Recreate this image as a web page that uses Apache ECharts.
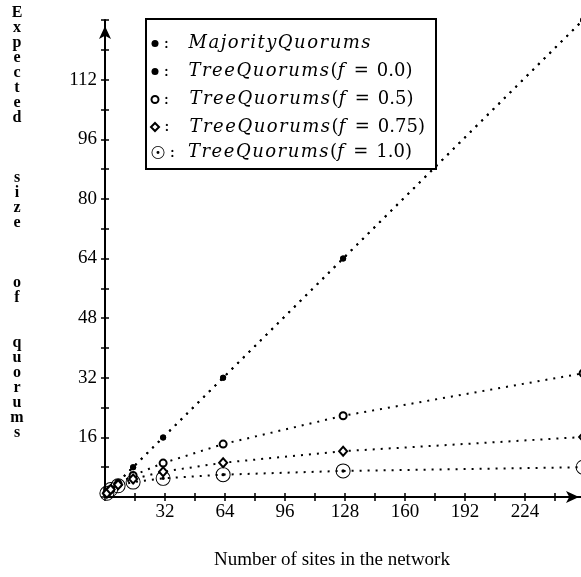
<!DOCTYPE html>
<html><head><meta charset="utf-8">
<script src="https://cdn.jsdelivr.net/npm/echarts@6/dist/echarts.min.js"></script>
<style>html,body{margin:0;padding:0;background:#fff}#c{width:581px;height:577px}</style>
</head><body><div id="c"></div>
<script>
// ---- data ----
const sites = [1, 3, 7, 15, 31, 63, 127, 255];
const majorityQuorums = [1, 2, 4, 8, 16, 32, 64, 128];
const treeF00 = [1, 2, 4, 8, 16, 32, 64, 128];
const treeF05 = [1, 2, 3.5, 5.8, 9.1, 14.2, 21.8, 33.2];
const treeF075 = [1, 2, 3.3, 4.8, 6.8, 9.2, 12.3, 16.1];
const treeF10 = [1, 2, 3, 4, 5, 6, 7, 8];
const xTickLabels = [32, 64, 96, 128, 160, 192, 224];
const yTickLabels = [16, 32, 48, 64, 80, 96, 112];
const seriesNames = ['MajorityQuorums', 'TreeQuorums(f = 0.0)', 'TreeQuorums(f = 0.5)', 'TreeQuorums(f = 0.75)', 'TreeQuorums(f = 1.0)'];
const xTitle = 'Number of sites in the network';
const yTitle = 'Expected size of quorums';

// ---- styles ----
const SERIF = 'Liberation Serif';
const MATH = 'DejaVu Serif';
const odot = 'path://M0,-10A10,10,0,1,1,0,10A10,10,0,1,1,0,-10ZM0,-8.7A8.7,8.7,0,1,0,0,8.7A8.7,8.7,0,1,0,0,-8.7ZM0,-2.3A2.3,2.3,0,1,1,0,2.3A2.3,2.3,0,1,1,0,-2.3Z';
const dotted = {color: '#000', width: 2, type: [2, 6], cap: 'butt'};

function mk(name, vals, symbol, size, bw, z) {
  return {
    name, type: 'line', data: sites.map((s, i) => [s, vals[i]]),
    symbol, symbolSize: size, showSymbol: true, z,
    lineStyle: dotted,
    itemStyle: {color: '#000', borderColor: '#000', borderWidth: bw},
    emphasis: {disabled: true}, animation: false
  };
}
const series = [
  mk(seriesNames[0], majorityQuorums, 'circle', 6, 0, 3),
  mk(seriesNames[1], treeF00, 'circle', 6, 0, 3),
  mk(seriesNames[2], treeF05, 'emptyCircle', 7, 1.7, 4),
  mk(seriesNames[3], treeF075, 'emptyDiamond', [8, 9], 1.5, 4),
  mk(seriesNames[4], treeF10, odot, 15, 0, 2)
];

// legend rows: icon, size, icon center x, row center y, colon box width
const legendRows = [
  {icon: 'circle', w: 7, cx: 155, cy: 38, cw: 25},
  {icon: 'circle', w: 7, cx: 155, cy: 66, cw: 25},
  {icon: 'emptyCircle', w: 7, cx: 154, cy: 94, cw: 26},
  {icon: 'emptyDiamond', w: 8, cx: 154, cy: 122, cw: 25.5},
  {icon: odot, w: 13, cx: 158, cy: 150, cw: 18.5}
];
// math-italic style: each letter its own token so spacing resembles TeX math italic
function itl(s) { return s.split('').map(ch => '{it|' + ch + '}').join(''); }
function fmt(name) {
  const m = name.match(/^(\w+)\((\w) = ([\d.]+)\)$/);
  if (!m) return '{c|:}' + itl(name);
  return '{c|:}' + itl(m[1]) + '{rm|(}' + itl(m[2]) + '{eq|=}{rm|' + m[3] + ')}';
}
const legends = legendRows.map((r, i) => ({
  data: [{name: seriesNames[i], icon: r.icon}],
  left: r.cx - r.w / 2, top: r.cy - r.w / 2,
  itemWidth: r.w, itemHeight: r.w, padding: 0, selectedMode: false,
  formatter: fmt,
  textStyle: {
    rich: {
      c: {fontFamily: MATH, fontSize: 17, color: '#000', width: r.cw, lineHeight: 20},
      it: {fontFamily: MATH, fontStyle: 'italic', fontSize: 18, color: '#000', lineHeight: 20, padding: [0, 1.5, 0, 0]},
      rm: {fontFamily: MATH, fontSize: 18, color: '#000', lineHeight: 20},
      eq: {fontFamily: MATH, fontSize: 18, color: '#000', lineHeight: 20, padding: [0, 8, 0, 8]}
    }
  }
}));

// stacked vertical y-axis title (letters one per line, blank lines between words)
const wordGaps = ['\n\n\n\n', '\n\n\n\n', '\n\n\n'];
const yWords = yTitle.split(' ').map(w => w.split('').join('\n'));
const yName = yWords.reduce((acc, w, i) => i === 0 ? w : acc + wordGaps[i - 1] + w, '');

const axisLineCommon = {show: true, lineStyle: {color: '#000', width: 2}, symbol: ['none', 'arrow'], symbolSize: [9, 13], symbolOffset: [0, -6]};
const tickStyle = {color: '#000', width: 1.5};

const option = {
  backgroundColor: '#fff',
  animation: false,
  title: {
    text: yName, left: 17, top: 5, padding: 0, textAlign: 'center',
    textStyle: {fontFamily: SERIF, fontSize: 16, fontWeight: 'bold', color: '#000', lineHeight: 15}
  },
  grid: {left: 105, right: -4, top: 20, bottom: 80, containLabel: false, outerBoundsMode: 'none'},
  legend: legends,
  graphic: [{type: 'rect', shape: {x: 146, y: 19, width: 290, height: 150}, style: {fill: 'none', stroke: '#000', lineWidth: 2}, z: 100}],
  xAxis: [{
    type: 'value', min: 0, max: 256, interval: 16, position: 'bottom',
    axisLine: axisLineCommon,
    axisTick: {show: true, length: 4, lineStyle: tickStyle},
    axisLabel: {formatter: v => xTickLabels.includes(v) ? String(v) : '', fontFamily: SERIF, fontSize: 19, color: '#000', margin: 6},
    splitLine: {show: false},
    name: xTitle, nameLocation: 'middle', nameGap: 63,
    nameTextStyle: {fontFamily: SERIF, fontSize: 19, color: '#000', verticalAlign: 'middle', padding: [0, 26, 0, 0]}
  }, {
    type: 'value', min: 0, max: 256, interval: 16, position: 'bottom', gridIndex: 0,
    axisLine: {show: false}, axisTick: {show: true, inside: true, length: 4, lineStyle: tickStyle},
    axisLabel: {show: false}, splitLine: {show: false}
  }],
  yAxis: [{
    type: 'value', min: 0, max: 128, interval: 8, position: 'left',
    axisLine: axisLineCommon,
    axisTick: {show: true, length: 4, lineStyle: tickStyle},
    axisLabel: {formatter: v => yTickLabels.includes(v) ? String(v) : '', fontFamily: SERIF, fontSize: 19, color: '#000', margin: 8},
    splitLine: {show: false}
  }, {
    type: 'value', min: 0, max: 128, interval: 8, position: 'left', gridIndex: 0,
    axisLine: {show: false}, axisTick: {show: true, inside: true, length: 4, lineStyle: tickStyle},
    axisLabel: {show: false}, splitLine: {show: false}
  }],
  series
};
const chart = echarts.init(document.getElementById('c'));
chart.setOption(option);
</script></body></html>
